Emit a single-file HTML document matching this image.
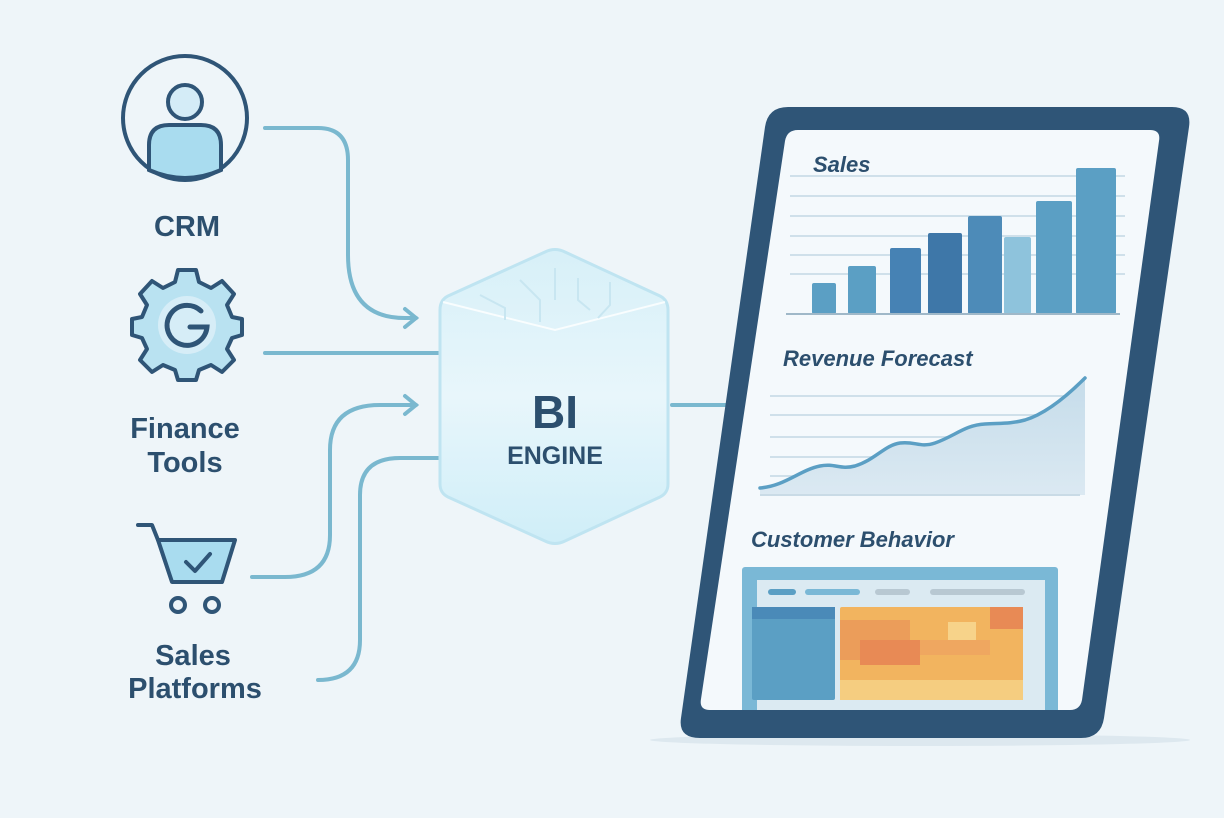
<!DOCTYPE html>
<html><head><meta charset="utf-8"><style>
html,body{margin:0;padding:0;background:#eef5f9;}
svg{display:block;}
text{font-family:"Liberation Sans",sans-serif;font-weight:bold;fill:#2c4f6e;}
</style></head><body>
<svg width="1224" height="818" viewBox="0 0 1224 818" xmlns="http://www.w3.org/2000/svg">
<defs>
<linearGradient id="hx" x1="0" y1="0" x2="0" y2="1">
<stop offset="0" stop-color="#d7f0f8"/><stop offset="0.5" stop-color="#e8f6fb"/><stop offset="1" stop-color="#cfeef8"/>
</linearGradient>
<linearGradient id="area" x1="0" y1="0" x2="0" y2="1">
<stop offset="0" stop-color="#c5dcea"/><stop offset="1" stop-color="#dbe9f2"/>
</linearGradient>
<clipPath id="scr"><path d="M806,130 H1150 Q1161,130 1159,141 L1082,700 Q1080,710 1070,710 H710 Q699,710 701,699 L785,141 Q787,130 798,130Z"/></clipPath>
</defs>
<rect width="1224" height="818" fill="#eef5f9"/>
<ellipse cx="920" cy="740" rx="270" ry="6" fill="#dde8ef"/>

<g fill="none" stroke="#7ab8cf" stroke-width="4" stroke-linecap="round">
<path d="M265,128 H318 Q348,128 348,160 V255 Q348,318 405,318 H416"/>
<path d="M405,309 L416,318 L405,327"/>
<path d="M265,353 H440"/>
<path d="M252,577 H285 Q330,577 330,535 V450 Q330,405 380,405 H416"/>
<path d="M405,396 L416,405 L405,414"/>
<path d="M318,680 Q360,680 360,640 V495 Q360,458 400,458 H440"/>
<path d="M672,405 H728"/>
</g>

<circle cx="185" cy="118" r="62" fill="#eef5f9" stroke="#2f5577" stroke-width="4"/>
<circle cx="185" cy="102" r="17" fill="#d4ecf7" stroke="#2f5577" stroke-width="4"/>
<path d="M149,170 V145 Q149,125 169,125 H201 Q221,125 221,145 V170 Q185,186 149,170Z" fill="#a9dcef" stroke="#2f5577" stroke-width="4"/>
<text x="187" y="236" font-size="29" text-anchor="middle">CRM</text>

<g transform="translate(187,325)">
<path d="M-9,-52 H9 L12,-40 L24,-34 L35,-41 L47,-28 L40,-17 L45,-5 L55,-3 V13 L45,16 L40,27 L47,38 L35,50 L24,43 L12,48 L9,58 H-9 L-12,48 L-24,43 L-35,50 L-47,38 L-40,27 L-45,16 L-55,13 V-3 L-45,-5 L-40,-17 L-47,-28 L-35,-41 L-24,-34 L-12,-40Z" transform="translate(0,-3)" fill="#b9e2f1" stroke="#2f5577" stroke-width="4" stroke-linejoin="round"/>
<circle r="29" fill="#d6edf7" stroke="none"/>
<path d="M14,-14 A20,20 0 1 0 20,2 H3" fill="none" stroke="#2f5577" stroke-width="5" stroke-linecap="round"/>
</g>
<text x="185" y="438" font-size="29" text-anchor="middle">Finance</text>
<text x="185" y="472" font-size="29" text-anchor="middle">Tools</text>

<g fill="none" stroke="#2f5577" stroke-width="4" stroke-linejoin="round" stroke-linecap="round">
<path d="M138,525 H152 L158,540"/>
<path d="M158,540 H235 L222,582 H172Z" fill="#a9dcef"/>
<path d="M186,562 L195,571 L210,554"/>
<circle cx="178" cy="605" r="7"/>
<circle cx="212" cy="605" r="7"/>
</g>
<text x="193" y="665" font-size="29" text-anchor="middle">Sales</text>
<text x="195" y="698" font-size="29" text-anchor="middle">Platforms</text>

<path d="M545,252 Q555,247 565,252 L660,296 Q668,300 668,310 V484 Q668,493 660,497 L565,541 Q555,546 545,541 L448,497 Q440,493 440,484 V310 Q440,300 448,296Z" fill="url(#hx)" stroke="#bfe4f1" stroke-width="3"/>
<polyline points="443,302 555,330 665,302" fill="none" stroke="#ffffff" stroke-width="2" opacity="0.8"/>
<g stroke="#c8e6f1" stroke-width="2" fill="none">
<path d="M480,295 L505,308 V320"/><path d="M520,280 L540,300 V322"/><path d="M555,268 V300"/><path d="M578,278 V300 L590,310"/><path d="M610,282 V305 L598,318"/>
</g>
<text x="555" y="428" font-size="46" text-anchor="middle">BI</text>
<text x="555" y="464" font-size="25" text-anchor="middle">ENGINE</text>

<path d="M785,107 H1172 Q1192,107 1189,127 L1104,718 Q1101,738 1081,738 H700 Q678,738 681,718 L765,127 Q768,107 788,107Z" fill="#2f5577"/>
<path d="M806,130 H1150 Q1161,130 1159,141 L1082,700 Q1080,710 1070,710 H710 Q699,710 701,699 L785,141 Q787,130 798,130Z" fill="#f4f9fc"/>
<g clip-path="url(#scr)">
<text x="813" y="172" font-size="22" font-style="italic">Sales</text>
<g stroke="#cfe0ea" stroke-width="2">
<line x1="790" y1="176" x2="1125" y2="176"/><line x1="790" y1="196" x2="1125" y2="196"/><line x1="790" y1="216" x2="1125" y2="216"/><line x1="790" y1="236" x2="1125" y2="236"/><line x1="790" y1="255" x2="1125" y2="255"/><line x1="790" y1="274" x2="1125" y2="274"/>
</g>
<rect x="812" y="283" width="24" height="31" rx="2" fill="#5b9fc4"/>
<rect x="848" y="266" width="28" height="48" rx="2" fill="#5b9fc4"/>
<rect x="890" y="248" width="31" height="66" rx="2" fill="#4682b4"/>
<rect x="928" y="233" width="34" height="81" rx="2" fill="#3e77a8"/>
<rect x="968" y="216" width="34" height="98" rx="2" fill="#4d8bb8"/>
<rect x="1004" y="237" width="27" height="77" rx="2" fill="#8ec3dc"/>
<rect x="1036" y="201" width="36" height="113" rx="2" fill="#5b9fc4"/>
<rect x="1076" y="168" width="40" height="146" rx="2" fill="#5b9fc4"/>
<line x1="786" y1="314" x2="1120" y2="314" stroke="#9fb8c8" stroke-width="2"/>
<text x="783" y="366" font-size="22" font-style="italic">Revenue Forecast</text>
<g stroke="#cfe0ea" stroke-width="2">
<line x1="770" y1="396" x2="1085" y2="396"/><line x1="770" y1="415" x2="1085" y2="415"/><line x1="770" y1="437" x2="1085" y2="437"/><line x1="770" y1="457" x2="1085" y2="457"/><line x1="770" y1="476" x2="1085" y2="476"/>
</g>
<path d="M760,488 C785,486 800,470 820,466 C835,463 840,470 855,466 C875,460 885,445 900,443 C915,441 920,448 935,443 C955,436 965,425 985,424 C1000,423 1010,424 1025,420 C1045,414 1065,398 1085,378 V495 H760Z" fill="url(#area)"/>
<path d="M760,488 C785,486 800,470 820,466 C835,463 840,470 855,466 C875,460 885,445 900,443 C915,441 920,448 935,443 C955,436 965,425 985,424 C1000,423 1010,424 1025,420 C1045,414 1065,398 1085,378" fill="none" stroke="#5b9fc4" stroke-width="3.5" stroke-linecap="round"/>
<line x1="760" y1="495" x2="1080" y2="495" stroke="#c9dbe6" stroke-width="2"/>
<text x="751" y="547" font-size="22" font-style="italic">Customer Behavior</text>
<rect x="742" y="567" width="316" height="160" rx="3" fill="#7ab8d6"/>
<rect x="757" y="580" width="288" height="150" fill="#dbeaf2"/>
<rect x="768" y="589" width="28" height="6" rx="3" fill="#5b9fc4"/>
<rect x="805" y="589" width="55" height="6" rx="3" fill="#7ab8d6"/>
<rect x="875" y="589" width="35" height="6" rx="3" fill="#b8c8d2"/>
<rect x="930" y="589" width="95" height="6" rx="3" fill="#b8c8d2"/>
<rect x="752" y="607" width="83" height="93" rx="2" fill="#5b9fc4"/>
<rect x="752" y="607" width="83" height="12" fill="#4a8ab8"/>
<rect x="840" y="607" width="183" height="93" rx="2" fill="#f2b45f"/>
<rect x="840" y="620" width="70" height="40" fill="#eb9d5a"/>
<rect x="860" y="640" width="60" height="25" fill="#e88a55"/>
<rect x="990" y="607" width="33" height="22" fill="#e88a55"/>
<rect x="948" y="622" width="28" height="18" fill="#f7d38a"/>
<rect x="920" y="640" width="70" height="15" fill="#efa760"/>
<rect x="840" y="680" width="183" height="20" fill="#f5cd80"/>
</g>
</svg>
</body></html>
